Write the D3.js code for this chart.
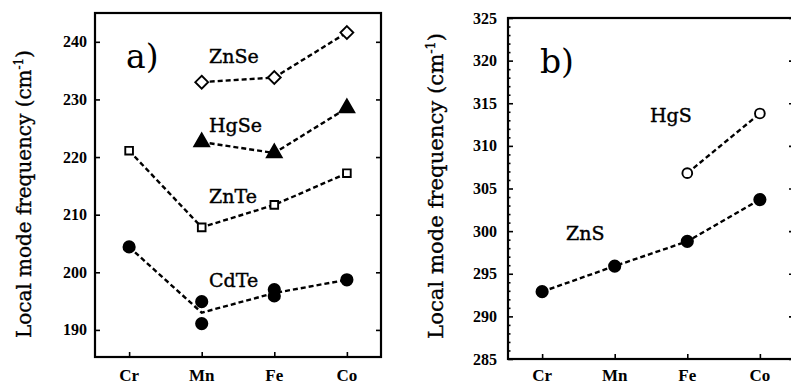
<!DOCTYPE html>
<html lang="en">
<head>
<meta charset="utf-8">
<title>Local mode frequency</title>
<script src="https://d3js.org/d3.v7.min.js"></script>
<style>
  body { margin: 0; background: #fff; }
  svg { display: block; }
</style>
</head>
<body>
<script>

// categories (transition metal impurity)
var metals = ["Cr", "Mn", "Fe", "Co"];

// panel a) values, cm^-1 (null = no point)
var znse = [null, 233.0, 233.8, 241.6];
var hgse = [null, 222.6, 220.7, 228.5];
var znte = [221.1, 207.8, 211.7, 217.2];
// CdTe has two measured points at Mn and Fe
var cdtePts = [
  {m: "Cr", v: 204.4}, {m: "Mn", v: 194.9}, {m: "Mn", v: 191.1},
  {m: "Fe", v: 197.0}, {m: "Fe", v: 195.9}, {m: "Co", v: 198.7}
];
var cdteLine = [204.4, 193.0, 196.4, 198.7];

// panel b) values
var zns = [292.9, 295.9, 298.8, 303.7];
var hgs = [null, null, 306.8, 313.8];

var ticksA = [190, 200, 210, 220, 230, 240];
var ticksB = [285, 290, 295, 300, 305, 310, 315, 320, 325];

var w = 791, h = 384;
var svg = d3.select("body").append("svg").attr("width", w).attr("height", h);

var serif = "'DejaVu Serif', serif";
var numFont = "'Liberation Serif', serif";

function panel(o) {
  var x = d3.scalePoint().domain(metals).range([o.left, o.right]).padding(0.47);
  var y = d3.scaleLinear().domain(o.domain).range([o.bottom, o.top]);
  var g = svg.append("g");

  // frame
  g.append("rect")
    .attr("x", o.left).attr("y", o.top)
    .attr("width", o.right - o.left).attr("height", o.bottom - o.top)
    .attr("fill", "none").attr("stroke", "#000").attr("stroke-width", 2.2);

  // left / right axes, inner ticks
  var yl = d3.axisRight(y).tickValues(o.ticks).tickSize(5).tickFormat("");
  g.append("g").attr("transform", "translate(" + o.left + ",0)").call(yl)
    .call(function(s) { s.select(".domain").remove(); });
  var yr = d3.axisLeft(y).tickValues(o.ticks).tickSize(5).tickFormat("");
  g.append("g").attr("transform", "translate(" + o.right + ",0)").call(yr)
    .call(function(s) { s.select(".domain").remove(); });
  if (o.minor) {
    g.append("g").attr("transform", "translate(" + o.left + ",0)")
      .call(d3.axisRight(y).tickValues(o.minor).tickSize(2.5).tickFormat(""))
      .call(function(s) { s.select(".domain").remove(); });
  }
  g.selectAll(".tick line").attr("stroke-width", 1.6);

  // tick labels
  g.selectAll(".ylab").data(o.ticks).enter().append("text")
    .attr("x", o.labelX).attr("y", function(d) { return y(d) + 5.5; })
    .attr("text-anchor", "end")
    .style("font-family", numFont).style("font-weight", "bold").style("font-size", "16px")
    .text(function(d) { return d; });

  // bottom ticks + labels
  var xa = d3.axisTop(x).tickSize(5).tickFormat("");
  g.append("g").attr("transform", "translate(0," + o.bottom + ")").call(xa)
    .call(function(s) { s.select(".domain").remove(); s.selectAll("line").attr("stroke-width", 1.6); });
  g.selectAll(".xlab").data(metals).enter().append("text")
    .attr("x", function(d) { return x(d); }).attr("y", 381)
    .attr("text-anchor", "middle")
    .style("font-family", numFont).style("font-weight", "bold").style("font-size", "17px")
    .text(function(d) { return d; });

  // y title
  var t = g.append("text")
    .attr("transform", "translate(" + o.titleX + "," + o.titleY + ") rotate(-90)")
    .attr("text-anchor", "middle")
    .attr("stroke", "#000").attr("stroke-width", 0.35)
    .style("font-family", serif).style("font-size", "20px");
  t.append("tspan").text("Local mode frequency (cm");
  t.append("tspan").attr("dy", -8).style("font-size", "12px").text("-1");
  t.append("tspan").attr("dy", 8).text(")");
  var len = t.node().getComputedTextLength();
  var fs = 20 * o.titleLen / len;
  t.style("font-size", fs + "px");
  t.selectAll("tspan").filter(function(d, i) { return i === 1; })
    .style("font-size", (fs * 0.6) + "px").attr("dy", -fs * 0.4);
  t.selectAll("tspan").filter(function(d, i) { return i === 2; }).attr("dy", fs * 0.4);

  // panel letter
  g.append("text").attr("x", o.letter[0]).attr("y", o.letter[1])
    .style("font-family", serif).style("font-size", "33px").text(o.letter[2]);

  return {g: g, x: x, y: y};
}

function dashed(p, vals) {
  var pts = metals.map(function(m, i) { return {m: m, v: vals[i]}; })
    .filter(function(d) { return d.v !== null; });
  p.g.append("path").datum(pts)
    .attr("d", d3.line().x(function(d) { return p.x(d.m); }).y(function(d) { return p.y(d.v); }))
    .attr("fill", "none").attr("stroke", "#000").attr("stroke-width", 2.4)
    .attr("stroke-dasharray", "5,3");
  return pts;
}

function markers(p, pts, sym, size, filled) {
  p.g.selectAll(null).data(pts).enter().append("path")
    .attr("transform", function(d) { return "translate(" + p.x(d.m) + "," + p.y(d.v) + ")"; })
    .attr("d", d3.symbol().type(sym).size(size))
    .attr("fill", filled ? "#000" : "#fff")
    .attr("stroke", "#000").attr("stroke-width", 1.9);
}

function label(p, txt, x, y) {
  p.g.append("text").attr("x", x).attr("y", y)
    .attr("stroke", "#000").attr("stroke-width", 0.4)
    .style("font-family", serif).style("font-size", "19px").text(txt);
}

// ----- panel a
var pa = panel({
  left: 95, right: 381, top: 13, bottom: 357,
  domain: [185.3, 245], ticks: ticksA, minor: null,
  labelX: 87, titleX: 31, titleY: 194, titleLen: 288,
  letter: [126, 68, "a)"]
});
markers(pa, dashed(pa, znse), d3.symbolDiamond2, 105, false);
markers(pa, dashed(pa, hgse), d3.symbolTriangle, 95, true);
markers(pa, dashed(pa, znte), d3.symbolSquare2, 75, false);
dashed(pa, cdteLine);
markers(pa, cdtePts, d3.symbolCircle, 100, true);
label(pa, "ZnSe", 209, 63);
label(pa, "HgSe", 209, 132);
label(pa, "ZnTe", 209, 203);
label(pa, "CdTe", 209, 287);

// ----- panel b
var minorB = d3.range(286, 325).filter(function(v) { return v % 5 !== 0; });
var pb = panel({
  left: 508, right: 794, top: 18, bottom: 359,
  domain: [285, 325], ticks: ticksB, minor: minorB,
  labelX: 497, titleX: 443, titleY: 186, titleLen: 306,
  letter: [540, 73, "b)"]
});
markers(pb, dashed(pb, zns), d3.symbolCircle, 100, true);
markers(pb, dashed(pb, hgs), d3.symbolCircle, 75, false);
label(pb, "HgS", 650, 122);
label(pb, "ZnS", 566, 240);

</script>
</body>
</html>
